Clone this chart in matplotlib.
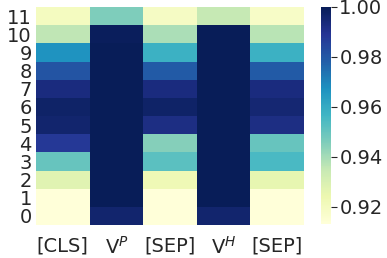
import numpy as np
import matplotlib
matplotlib.use("Agg")
import matplotlib.pyplot as plt

col_labels = ["[CLS]", "V$^{P}$", "[SEP]", "V$^{H}$", "[SEP]"]
row_labels = [str(i) for i in range(12)]  # row 0 at bottom

# values per column, rows 0..11
cls_vals  = [0.912, 0.912, 0.928, 0.950, 0.988, 0.996, 0.997, 0.993, 0.981, 0.967, 0.936, 0.920]
vp_vals   = [0.996, 1.000, 1.000, 1.000, 1.000, 1.000, 1.000, 1.000, 1.000, 1.000, 0.999, 0.946]
sep1_vals = [0.912, 0.912, 0.923, 0.952, 0.945, 0.992, 0.997, 0.993, 0.979, 0.958, 0.939, 0.919]
vh_vals   = [0.996, 1.000, 1.000, 1.000, 1.000, 1.000, 1.000, 1.000, 1.000, 1.000, 1.000, 0.935]
sep2_vals = [0.912, 0.912, 0.926, 0.955, 0.950, 0.992, 0.995, 0.993, 0.979, 0.958, 0.937, 0.918]

data = np.array([cls_vals, vp_vals, sep1_vals, vh_vals, sep2_vals]).T  # shape (12, 5)

vmin, vmax = 0.9132, 1.0

fig = plt.figure(figsize=(3.87, 2.58), dpi=100)
W, H = 387, 258
ax = fig.add_axes([36 / W, 1 - 225 / H, (304 - 36) / W, (225 - 7) / H])
cax = fig.add_axes([321 / W, 1 - 224 / H, 10 / W, (224 - 7) / H])

mesh = ax.pcolormesh(np.arange(6), np.arange(13), data, cmap="YlGnBu",
                     vmin=vmin, vmax=vmax)
ax.set_xlim(0, 5)
ax.set_ylim(0, 12)
ax.set_xticks(np.arange(5) + 0.5)
ax.set_xticklabels(col_labels)
ax.set_yticks(np.arange(12) + 0.5)
ax.set_yticklabels(row_labels)
text_color = "#262626"
ax.tick_params(axis="both", length=0, labelsize=14, colors=text_color, pad=3)
ax.tick_params(axis="x", pad=8)
for s in ax.spines.values():
    s.set_visible(False)

cb = fig.colorbar(mesh, cax=cax)
cb.outline.set_visible(False)
cb.set_ticks([0.92, 0.94, 0.96, 0.98, 1.00])
cb.set_ticklabels(["0.92", "0.94", "0.96", "0.98", "1.00"])
cax.tick_params(labelsize=14, colors=text_color, length=4, width=0.8, pad=2)

fig.savefig("out.png", dpi=100)
